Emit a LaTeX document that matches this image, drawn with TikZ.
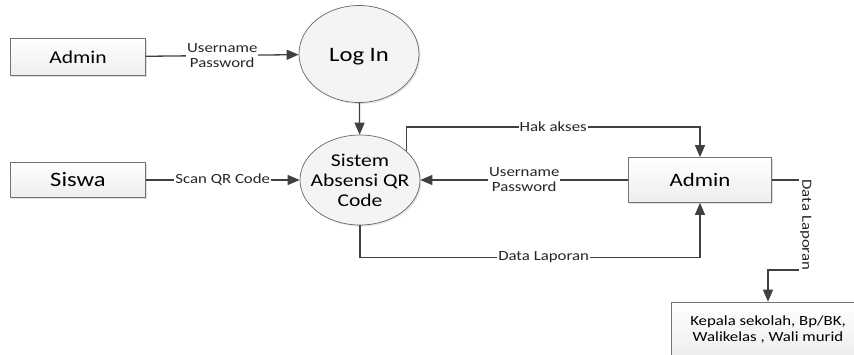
\documentclass[tikz,border=0pt]{standalone}
\usepackage{fontspec}
\setmainfont[FakeStretch=1.2]{Carlito}
\usetikzlibrary{arrows.meta, shapes.geometric, shadows}

\begin{document}
\begin{tikzpicture}[x = 1pt, y = -1pt,
		box/.style = {draw = black!55, line width = 0.7pt, top color = white, bottom color = gray!14,
			drop shadow = {opacity = 0.25, shadow xshift = 1.5pt, shadow yshift = -1.5pt}},
		proc/.style = {ellipse, draw = black!60, line width = 0.7pt, fill = gray!9,
			minimum width = 120pt, minimum height = 92pt,
			drop shadow = {opacity = 0.2, shadow xshift = 1.5pt, shadow yshift = -1.5pt}},
		flow/.style = {draw = black!75, line width = 1.3pt, -{Triangle[length = 12pt, width = 10pt]}},
		lbl/.style = {fill = white, inner sep = 1pt, align = center, text = black!85,
			font = \fontsize{14}{15}\selectfont}
	]
	
		\useasboundingbox (0, 0) rectangle (854, 354);
	
		% external entities
		\node[box, minimum width = 135pt, minimum height = 37pt, font = \fontsize{18}{20}\selectfont] (admin) at (78, 57) {Admin};
		\node[box, minimum width = 135pt, minimum height = 35pt, font = \fontsize{20.5}{22}\selectfont] (siswa) at (78, 180) {Siswa};
		\node[box, minimum width = 143pt, minimum height = 45pt, font = \fontsize{19}{21}\selectfont] (adminr) at (700, 180) {Admin};
		\node[box, minimum width = 194pt, minimum height = 56pt, align = center, font = \fontsize{14}{16}\selectfont] (kepala) at (768, 330) {Kepala sekolah, Bp/BK,\\Walikelas , Wali murid};
		
		% processes
		\node[proc, minimum height = 97pt, label = {[font = \fontsize{20.5}{22}\selectfont, yshift = -3pt]center:Log In}] (login) at (359, 54) {};
		\node[proc, minimum height = 90pt, label = {[align = center, font = \fontsize{18}{20}\selectfont]center:Sistem\\Absensi QR\\Code}] (sistem) at (360, 180) {};
		
		% flows
		\draw[flow] (admin) -- node[lbl] {Username\\Password} (login);
		\draw[flow] (siswa) -- node[lbl] {Scan QR Code} (sistem);
		\draw[flow] (login) -- (sistem);
		\draw[flow] (adminr) -- node[lbl] {Username\\Password} (sistem);
		\draw[flow] (sistem.32) -- ++(0, -24) -| node[lbl, pos = 0.25] {Hak akses} (adminr.north);
		\draw[flow] (sistem.south) -- ++(0, 32) -| node[lbl, pos = 0.27] {Data Laporan} (adminr.south);
		\draw[flow] (adminr.east) -- ++(34, 0) -- node[lbl, rotate = -90] {Data Laporan} ++(0, 90) -| (kepala.north);
		
	\end{tikzpicture}
\end{document}
